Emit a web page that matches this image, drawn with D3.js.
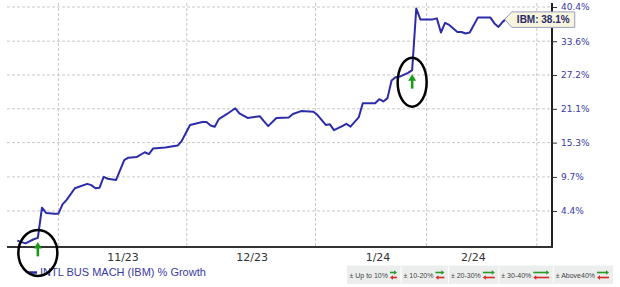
<!DOCTYPE html>
<html>
<head>
<meta charset="utf-8">
<script src="https://cdn.jsdelivr.net/npm/d3@7"></script>
<style>
  html, body { margin: 0; padding: 0; background: #fff; }
  svg { display: block; }
</style>
</head>
<body>
<svg id="chart" width="620" height="287"></svg>
<script>
// trading day offsets and % growth of IBM
var days = [0, 2, 4, 5, 6, 7, 9, 10, 11, 12, 14, 17, 18, 19, 20, 21, 22, 24, 26, 27,
  29, 31, 32, 33, 36, 39, 40, 42, 45, 46, 47, 48, 49, 51, 53, 54, 56, 59, 60, 61,
  63, 66, 67, 69, 72, 73, 75, 76, 77, 79, 80, 81, 83, 84, 87, 88, 89, 90, 91, 92,
  93, 95, 96, 97, 98, 101, 102, 103, 104, 105, 107, 108, 109, 110, 112, 115, 116, 117, 118, 119];
var growth = [0.0, -0.4, 0.2, 0.4, 4.9, 4.1, 4.0, 4.0, 5.4, 6.1, 7.9, 8.6, 8.4, 7.9, 8.0, 9.7, 9.4, 9.2, 12.4, 12.8,
  12.9, 13.7, 13.4, 14.3, 14.5, 14.8, 15.6, 18.3, 18.8, 18.8, 18.2, 18.0, 19.3, 20.2, 21.2, 20.3, 19.5, 19.8, 18.9, 18.1,
  19.5, 19.6, 20.2, 20.7, 20.6, 20.0, 18.3, 18.4, 17.4, 18.1, 18.5, 18.0, 19.6, 22.1, 22.1, 22.8, 22.4, 23.0, 26.2, 26.8,
  26.9, 27.6, 28.1, 40.1, 37.9, 37.9, 38.1, 35.3, 37.2, 36.8, 35.4, 35.4, 35.1, 35.3, 38.3, 38.3, 37.1, 36.4, 37.4, 38.1];

// earnings markers (day offsets)
var events = [5, 96];

// axis ticks
var yTicks = [4.4, 9.7, 15.3, 21.1, 27.2, 33.6, 40.4];
var monthBreaks = [10, 41.2, 72.5, 99.5, 126.3];
var monthLabelDays = [25.7, 57.1, 87.7, 110.9];
var monthLabels = ["11/23", "12/23", "1/24", "2/24"];

var seriesName = "INTL BUS MACH (IBM) % Growth";
var tipLabel = "IBM: 38.1%";
var legendLabels = ["\u00b1 Up to 10%", "\u00b1 10-20%", "\u00b1 20-30%", "\u00b1 30-40%", "\u00b1 Above40%"];

var plotL = 7, plotR = 552, plotT = 3, plotB = 247;
var blue = "#2c2caa";
var svg = d3.select("#chart");

var x = d3.scaleLinear().domain([-2.5, 130]).range([plotL, plotR]);
var y = d3.scaleLog().domain([0.9908, 1.4122]).range([plotB, plotT]);
function yv(v) { return y(1 + v / 100); }

// grid
svg.append("g").selectAll("line")
  .data(yTicks).enter().append("line")
  .attr("x1", plotL).attr("x2", plotR)
  .attr("y1", function(d) { return yv(d); })
  .attr("y2", function(d) { return yv(d); })
  .attr("stroke", "#c9c9c9").attr("stroke-dasharray", "3,2");
svg.append("g").selectAll("line")
  .data(monthBreaks).enter().append("line")
  .attr("x1", function(d) { return x(d); })
  .attr("x2", function(d) { return x(d); })
  .attr("y1", plotT).attr("y2", plotB)
  .attr("stroke", "#c9c9c9").attr("stroke-dasharray", "3,2");

// right axis
var yAxis = d3.axisRight(y)
  .tickValues(yTicks.map(function(v) { return 1 + v / 100; }))
  .tickFormat(function(d, i) { return yTicks[i].toFixed(1) + "%"; })
  .tickSize(5).tickPadding(4);
var ya = svg.append("g").attr("transform", "translate(" + plotR + ",0)").call(yAxis);
ya.select(".domain").remove();
ya.selectAll(".tick line").attr("stroke", "#333");
ya.selectAll("text").attr("fill", "#3a3aa6")
  .style("font-family", "DejaVu Sans").style("font-size", "9px");
svg.append("line").attr("x1", plotR).attr("x2", plotR).attr("y1", plotT).attr("y2", plotB + 1)
  .attr("stroke", "#222").attr("stroke-width", 2);

// bottom axis
svg.append("line").attr("x1", plotL).attr("x2", plotR + 1).attr("y1", plotB).attr("y2", plotB)
  .attr("stroke", "#333").attr("stroke-width", 2);
svg.append("g").selectAll("text")
  .data(monthLabels).enter().append("text")
  .attr("x", function(d, i) { return x(monthLabelDays[i]); })
  .attr("y", 261)
  .attr("text-anchor", "middle")
  .style("font-family", "DejaVu Sans").style("font-size", "11px")
  .attr("fill", "#333")
  .text(function(d) { return d; });

// price line
var points = days.map(function(d, i) { return [d, growth[i]]; });
var line = d3.line()
  .x(function(d) { return x(d[0]); })
  .y(function(d) { return yv(d[1]); });
svg.append("path").datum(points)
  .attr("d", line)
  .attr("fill", "none")
  .attr("stroke", blue)
  .attr("stroke-width", 2)
  .attr("stroke-linejoin", "round");

// earnings arrows
events.forEach(function(ev) {
  var cx = x(ev);
  var tip = yv(growth[days.indexOf(ev)]) + 4;
  svg.append("path")
    .attr("d", "M" + cx + "," + tip + "l4,6.5h-8z")
    .attr("fill", "#1c9a1c");
  svg.append("rect")
    .attr("x", cx - 1.3).attr("y", tip + 6)
    .attr("width", 2.6).attr("height", 8.5)
    .attr("fill", "#1c9a1c");
});

// legend (series)
svg.append("line").attr("x1", 28).attr("x2", 37).attr("y1", 272.5).attr("y2", 272.5)
  .attr("stroke", blue).attr("stroke-width", 2.5);
svg.append("text").attr("x", 40).attr("y", 276)
  .style("font-family", "Liberation Sans").style("font-size", "11px")
  .attr("fill", "#3a3aa6").text(seriesName);

// circles round the earnings arrows
var annoStyle = [{ rx: 19.5, ry: 23, dy: 11 }, { rx: 14.5, ry: 24.5, dy: 8 }];
events.forEach(function(ev, i) {
  var cx = x(ev);
  var tip = yv(growth[days.indexOf(ev)]) + 4;
  svg.append("ellipse")
    .attr("cx", cx).attr("cy", tip + annoStyle[i].dy)
    .attr("rx", annoStyle[i].rx).attr("ry", annoStyle[i].ry)
    .attr("fill", "none").attr("stroke", "#000").attr("stroke-width", 2.5);
});

// last value tooltip
var lx = x(days[days.length - 1]) - 2, ly = yv(growth[growth.length - 1]) + 1;
var tg = svg.append("g").attr("transform", "translate(" + lx + "," + ly + ")");
tg.append("path")
  .attr("d", "M0,0L7,-7.5H70V8H7Z")
  .attr("fill", "#f7f5dc").attr("stroke", "#9c9cc4").attr("stroke-width", 1);
tg.append("text").attr("x", 38.5).attr("y", 3.8).attr("text-anchor", "middle")
  .style("font-family", "Liberation Sans").style("font-size", "10px").style("font-weight", "bold")
  .attr("fill", "#2a2a6a").text(tipLabel);

// band legend
var arrowLen = [7, 9, 12, 16, 12];
var lg = svg.append("g");
var bx = 347, by = 265.5, bh = 18.5;
var bg = lg.append("rect").attr("y", by).attr("height", bh).attr("fill", "#eceeee");
legendLabels.forEach(function(lab, i) {
  var t = lg.append("text").attr("x", bx + 2.5).attr("y", by + 12.3)
    .style("font-family", "Liberation Sans").style("font-size", "7px")
    .attr("fill", "#444").text(lab);
  var ax = bx + 2.5 + t.node().getComputedTextLength() + 2;
  var L = arrowLen[i];
  var gy = by + 7, ry = by + 12;
  lg.append("line").attr("x1", ax).attr("x2", ax + L - 2).attr("y1", gy).attr("y2", gy)
    .attr("stroke", "#2a9a2a").attr("stroke-width", 1.6);
  lg.append("path").attr("d", "M" + (ax + L) + "," + gy + "l-3,-2.2v4.4z").attr("fill", "#2a9a2a");
  lg.append("line").attr("x1", ax + 2).attr("x2", ax + L).attr("y1", ry).attr("y2", ry)
    .attr("stroke", "#d42a2a").attr("stroke-width", 1.6);
  lg.append("path").attr("d", "M" + ax + "," + ry + "l3,-2.2v4.4z").attr("fill", "#d42a2a");
  var end = ax + L + 4;
  if (i < legendLabels.length - 1) {
    lg.append("line").attr("x1", end).attr("x2", end).attr("y1", by + 1).attr("y2", by + bh - 1)
      .attr("stroke", "#fff").attr("stroke-width", 1);
  }
  bx = end;
});
bg.attr("x", 347).attr("width", bx - 347);
</script>
</body>
</html>
